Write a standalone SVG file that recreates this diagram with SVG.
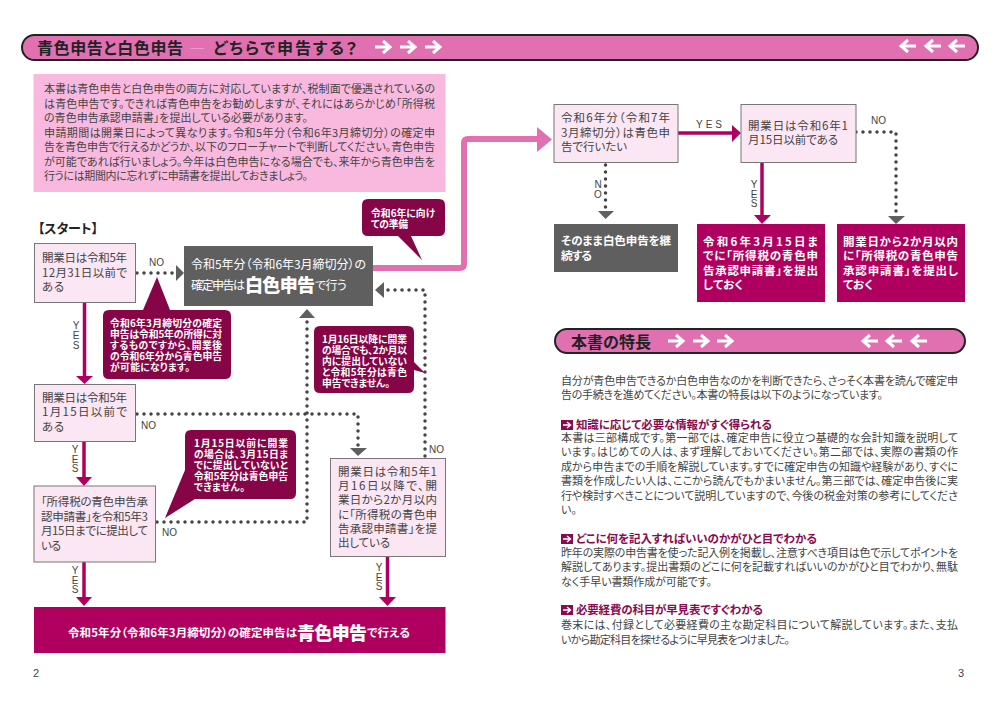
<svg xmlns="http://www.w3.org/2000/svg" xmlns:xlink="http://www.w3.org/1999/xlink" width="1000" height="709" viewBox="0 0 1000 709">
<style>
text{font-family:"Noto Sans CJK JP","Noto Sans",sans-serif;font-feature-settings:"palt";}
.b{font-size:11.5px;fill:#444;}
.p{font-size:11px;fill:#444;}
.l{font-size:10px;fill:#444;font-family:"Liberation Sans",sans-serif;}
.w{font-size:11.5px;fill:#fff;font-weight:700;}
.c{font-size:9.8px;fill:#fff;font-weight:700;}
.h{font-size:11.5px;fill:#8a0a50;font-weight:700;}
.t{fill:#222;font-weight:700;}
.box{fill:#fbe6f3;stroke:#777;stroke-width:1;}
.mag{fill:#b0005f;}
.gray{fill:#5f5f5f;}
.call{fill:#860547;}
.banner{fill:#e070b0;stroke:#222;stroke-width:2;}
.yes{stroke:#b0005f;stroke-width:3.5;fill:none;}
.no{stroke:#444;stroke-width:3.5;stroke-linecap:round;stroke-dasharray:0 7;fill:none;}
.ah{fill:#5f5f5f;}
.ay{fill:#b0005f;}
.ba{stroke:#fff;stroke-width:3;fill:none;}
</style>
<defs>
<g id="ar"><path class="ba" d="M0 0H14M8 -6L15 0L8 6"/></g>
<g id="al"><path class="ba" d="M15 0H1M7 -6L0 0L7 6"/></g>
<g id="ic"><rect x="0" y="-5" width="12" height="10" fill="#8a0a50"/><path d="M2 0H9M6 -3L9.5 0L6 3" stroke="#fff" stroke-width="1.5" fill="none"/></g>
</defs>
<rect width="1000" height="709" fill="#fff"/>

<g id="banner-top">
<rect class="banner" x="22" y="35" width="956" height="25" rx="12.5"/>
<text class="t" x="37" y="54" font-size="16" textLength="146">青色申告と白色申告</text>
<text x="189" y="54" font-size="16" fill="#f0a0d0" textLength="18">―</text>
<text class="t" x="213" y="54" font-size="16" textLength="144">どちらで申告する？</text>
<use xlink:href="#ar" href="#ar" x="375" y="47"/><use xlink:href="#ar" href="#ar" x="400" y="47"/><use xlink:href="#ar" href="#ar" x="425" y="47"/>
<use xlink:href="#al" href="#al" x="901" y="46"/><use xlink:href="#al" href="#al" x="926" y="46"/><use xlink:href="#al" href="#al" x="950" y="46"/>
</g>

<g id="intro">
<rect x="33.500" y="74" width="412" height="118" fill="#f9b9df"/>
<text class="p" x="44" y="93" textLength="391">本書は青色申告と白色申告の両方に対応していますが、税制面で優遇されているの</text>
<text class="p" x="44" y="107.500" textLength="391">は青色申告です。できれば青色申告をお勧めしますが、それにはあらかじめ「所得税</text>
<text class="p" x="44" y="122" textLength="264">の青色申告承認申請書」を提出している必要があります。</text>
<text class="p" x="44" y="137" textLength="391">申請期間は開業日によって異なります。令和5年分（令和6年3月締切分）の確定申</text>
<text class="p" x="44" y="151" textLength="391">告を青色申告で行えるかどうか、以下のフローチャートで判断してください。青色申告</text>
<text class="p" x="44" y="166" textLength="391">が可能であれば行いましょう。今年は白色申告になる場合でも、来年から青色申告を</text>
<text class="p" x="44" y="180" textLength="264">行うには期間内に忘れずに申請書を提出しておきましょう。</text>
</g>

<g id="connectors">
<path d="M373 268H460Q464 268 464 264V143Q464 139 468 139H540" fill="none" stroke="#e070b0" stroke-width="6"/>
<path d="M537 127L552 139.500L537 152Z" fill="#e070b0"/>
<path class="yes" d="M84.500 302V378"/><path class="ay" d="M76 376H93L84.500 384Z"/>
<path class="yes" d="M84 442V479"/><path class="ay" d="M76 477H92L84 486Z"/>
<path class="yes" d="M84 562V599"/><path class="ay" d="M76 597H92L84 606Z"/>
<path class="yes" d="M387.500 556V599"/><path class="ay" d="M379 597H396L387.500 606Z"/>
<path class="yes" d="M678 133H734"/><path class="ay" d="M732 125V142L741 133Z"/>
<path class="yes" d="M762 162V217"/><path class="ay" d="M754 215H771L762 224Z"/>
<path class="no" d="M137 273H175"/><path class="ah" d="M176 265L184 273L176 281Z"/>
<path class="no" d="M137 414H358V446"/><path class="ah" d="M350 448H367L358 456Z"/>
<path class="no" d="M157 522H307V319"/><path class="ah" d="M299 318H315L307 309Z"/>
<path class="no" d="M425 456V290H385"/><path class="ah" d="M384 282V298L375 290Z"/>
<path class="no" d="M856 132H896V214"/><path class="ah" d="M888 216H905L896 224Z"/>
<path class="no" d="M605.500 165V209"/><path class="ah" d="M598 211H614L605.500 219Z"/>
<g class="l">
<text class="l" x="149" y="266">NO</text>
<text class="l" x="141" y="429">NO</text>
<text class="l" x="162" y="536">NO</text>
<text class="l" x="429" y="453">NO</text>
<text class="l" x="871" y="124">NO</text>
<text class="l" x="696" y="128" textLength="26">YES</text>
<text class="l" text-anchor="middle"><tspan x="76" y="329">Y</tspan><tspan x="76" y="339">E</tspan><tspan x="76" y="349">S</tspan></text>
<text class="l" text-anchor="middle"><tspan x="75" y="453">Y</tspan><tspan x="75" y="463">E</tspan><tspan x="75" y="472">S</tspan></text>
<text class="l" text-anchor="middle"><tspan x="75" y="574">Y</tspan><tspan x="75" y="584">E</tspan><tspan x="75" y="593">S</tspan></text>
<text class="l" text-anchor="middle"><tspan x="379" y="571">Y</tspan><tspan x="379" y="581">E</tspan><tspan x="379" y="590">S</tspan></text>
<text class="l" text-anchor="middle"><tspan x="754" y="188">Y</tspan><tspan x="754" y="198">E</tspan><tspan x="754" y="207">S</tspan></text>
<text class="l" text-anchor="middle"><tspan x="598" y="188">N</tspan><tspan x="598" y="198">O</tspan></text>
</g>
</g>

<text id="start" x="38" y="233" font-size="13" class="t" textLength="60">【スタート】</text>

<g id="box1"><rect class="box" x="34.500" y="243.500" width="101" height="59"/>
<text class="b" x="42" y="262" textLength="85">開業日は令和5年</text><text class="b" x="42" y="277" textLength="85">12月31日以前で</text><text class="b" x="42" y="291" textLength="22">ある</text></g>
<g id="box2"><rect class="box" x="34.500" y="384.500" width="101" height="57"/>
<text class="b" x="42" y="402" textLength="85">開業日は令和5年</text><text class="b" x="42" y="416" textLength="85">1月15日以前で</text><text class="b" x="42" y="431" textLength="22">ある</text></g>
<g id="box3"><rect class="box" x="34" y="486" width="121.500" height="76"/>
<text class="b" x="41" y="506" textLength="107">「所得税の青色申告承</text><text class="b" x="41" y="521" textLength="107">認申請書」を令和5年3</text><text class="b" x="41" y="535" textLength="107">月15日までに提出して</text><text class="b" x="41" y="550" textLength="20">いる</text></g>
<g id="box4"><rect class="box" x="330.500" y="458.500" width="115" height="98"/>
<text class="b" x="338" y="476" textLength="99">開業日は令和5年1</text><text class="b" x="338" y="490" textLength="99">月16日以降で、開</text><text class="b" x="338" y="504" textLength="99">業日から2か月以内</text><text class="b" x="338" y="519" textLength="99">に「所得税の青色申</text><text class="b" x="338" y="533" textLength="99">告承認申請書」を提</text><text class="b" x="338" y="547" textLength="52">出している</text></g>
<g id="box5"><rect class="box" x="554" y="104.500" width="124" height="58"/>
<text class="b" x="561" y="122" textLength="109">令和6年分（令和7年</text><text class="b" x="561" y="137" textLength="109">3月締切分）は青色申</text><text class="b" x="561" y="151" textLength="66">告で行いたい</text></g>
<g id="box6"><rect class="box" x="741" y="104.500" width="115" height="58"/>
<text class="b" x="748" y="130" textLength="100">開業日は令和6年1</text><text class="b" x="748" y="144" textLength="90">月15日以前である</text></g>

<g id="white-result"><rect class="gray" x="184" y="246" width="189" height="60"/>
<text x="191" y="269" font-size="12" fill="#fff" textLength="175">令和5年分（令和6年3月締切分）の</text>
<text x="191" y="290" font-size="12" fill="#fff" textLength="54">確定申告は</text>
<text x="245" y="292" font-size="18" fill="#fff" font-weight="900" textLength="70">白色申告</text>
<text x="315" y="290" font-size="12" fill="#fff" textLength="32">で行う</text></g>

<g id="blue-result"><rect class="mag" x="34" y="607" width="411.500" height="46"/>
<text class="w" x="68" y="637" textLength="229">令和5年分（令和6年3月締切分）の確定申告は</text>
<text x="297" y="640" font-size="18" fill="#fff" font-weight="900" textLength="70">青色申告</text>
<text class="w" x="367" y="637" textLength="43">で行える</text></g>

<g id="continue-white"><rect class="gray" x="554" y="224" width="124" height="48"/>
<text class="w" x="561" y="245" textLength="110">そのまま白色申告を継</text><text class="w" x="561" y="260" textLength="31">続する</text></g>
<g id="submit-a"><rect class="mag" x="697" y="224" width="128" height="78"/>
<text class="w" x="703" y="246" textLength="115">令和6年3月15日ま</text><text class="w" x="703" y="260" textLength="115">でに「所得税の青色申</text><text class="w" x="703" y="275" textLength="115">告承認申請書」を提出</text><text class="w" x="703" y="289" textLength="40">しておく</text></g>
<g id="submit-b"><rect class="mag" x="837" y="224" width="128" height="78"/>
<text class="w" x="843" y="246" textLength="115">開業日から2か月以内</text><text class="w" x="843" y="260" textLength="115">に「所得税の青色申告</text><text class="w" x="843" y="275" textLength="115">承認申請書」を提出し</text><text class="w" x="843" y="289" textLength="30">ておく</text></g>

<g id="callout-prep"><path class="call" d="M368 199H439Q445 199 445 205V230Q445 236 439 236H411L422 260L398 236H368Q362 236 362 230V205Q362 199 368 199Z"/>
<text class="c"><tspan x="371" y="217" textLength="64">令和6年に向け</tspan><tspan x="371" y="228" textLength="37">ての準備</tspan></text></g>
<g id="callout-note1"><path class="call" d="M109 310H143L157 277L170 310H225Q231 310 231 316V373Q231 379 225 379H109Q103 379 103 373V316Q103 310 109 310Z"/>
<text class="c"><tspan x="110" y="327" textLength="112">令和6年3月締切分の確定</tspan><tspan x="110" y="338" textLength="112">申告は令和5年の所得に対</tspan><tspan x="110" y="349" textLength="112">するものですから、開業後</tspan><tspan x="110" y="360" textLength="112">の令和6年分から青色申告</tspan><tspan x="110" y="371" textLength="80">が可能になります。</tspan></text></g>
<g id="callout-note2"><path class="call" d="M320 326H408Q414 326 414 332V362L425 373L414 370V387Q414 393 408 393H320Q314 393 314 387V332Q314 326 320 326Z"/>
<text class="c"><tspan x="322" y="343" textLength="85">1月16日以降に開業</tspan><tspan x="322" y="354" textLength="85">の場合でも、2か月以</tspan><tspan x="322" y="365" textLength="85">内に提出していない</tspan><tspan x="322" y="376" textLength="85">と令和5年分は青色</tspan><tspan x="322" y="387" textLength="68">申告できません。</tspan></text></g>
<g id="callout-note3"><path class="call" d="M191 430H290Q296 430 296 436V493Q296 499 290 499H195L165 518L185 470V436Q185 430 191 430Z"/>
<text class="c"><tspan x="194" y="447" textLength="94">1月15日以前に開業</tspan><tspan x="194" y="458" textLength="94">の場合は、3月15日ま</tspan><tspan x="194" y="469" textLength="94">でに提出していないと</tspan><tspan x="194" y="480" textLength="94">令和5年分は青色申告</tspan><tspan x="194" y="491" textLength="51">できません。</tspan></text></g>

<g id="banner-features">
<rect class="banner" x="555" y="329" width="410" height="24" rx="12"/>
<text class="t" x="571" y="348" font-size="16" textLength="80">本書の特長</text>
<use xlink:href="#ar" href="#ar" x="668" y="341"/><use xlink:href="#ar" href="#ar" x="693" y="341"/><use xlink:href="#ar" href="#ar" x="717" y="341"/>
<use xlink:href="#al" href="#al" x="863" y="341"/><use xlink:href="#al" href="#al" x="887" y="341"/><use xlink:href="#al" href="#al" x="912" y="341"/>
</g>

<g id="features">
<text class="p" x="561" y="385" textLength="397">自分が青色申告できるか白色申告なのかを判断できたら、さっそく本書を読んで確定申</text>
<text class="p" x="561" y="399" textLength="322">告の手続きを進めてください。本書の特長は以下のようになっています。</text>
<use xlink:href="#ic" href="#ic" x="561" y="425"/>
<text class="h" x="576" y="429" textLength="196">知識に応じて必要な情報がすぐ得られる</text>
<text class="p" x="561" y="442" textLength="397">本書は三部構成です。第一部では、確定申告に役立つ基礎的な会計知識を説明して</text>
<text class="p" x="561" y="456" textLength="397">います。はじめての人は、まず理解しておいてください。第二部では、実際の書類の作</text>
<text class="p" x="561" y="471" textLength="397">成から申告までの手順を解説しています。すでに確定申告の知識や経験があり、すぐに</text>
<text class="p" x="561" y="485" textLength="397">書類を作成したい人は、ここから読んでもかまいません。第三部では、確定申告後に実</text>
<text class="p" x="561" y="500" textLength="397">行や検討すべきことについて説明していますので、今後の税金対策の参考にしてくださ</text>
<text class="p" x="561" y="514">い。</text>
<use xlink:href="#ic" href="#ic" x="561" y="539"/>
<text class="h" x="576" y="543" textLength="241">どこに何を記入すればいいのかがひと目でわかる</text>
<text class="p" x="561" y="557" textLength="397">昨年の実際の申告書を使った記入例を掲載し、注意すべき項目は色で示してポイントを</text>
<text class="p" x="561" y="571" textLength="397">解説してあります。提出書類のどこに何を記載すればいいのかがひと目でわかり、無駄</text>
<text class="p" x="561" y="586" textLength="151">なく手早い書類作成が可能です。</text>
<use xlink:href="#ic" href="#ic" x="561" y="610"/>
<text class="h" x="576" y="614" textLength="187">必要経費の科目が早見表ですぐわかる</text>
<text class="p" x="561" y="629" textLength="397">巻末には、付録として必要経費の主な勘定科目について解説しています。また、支払</text>
<text class="p" x="561" y="644" textLength="229">いから勘定科目を探せるように早見表をつけました。</text>
</g>

<text id="page2" x="33" y="677" font-size="11" fill="#444" style="font-family:'Liberation Sans',sans-serif">2</text>
<text id="page3" x="958" y="677" font-size="11" fill="#444" style="font-family:'Liberation Sans',sans-serif">3</text>
</svg>
